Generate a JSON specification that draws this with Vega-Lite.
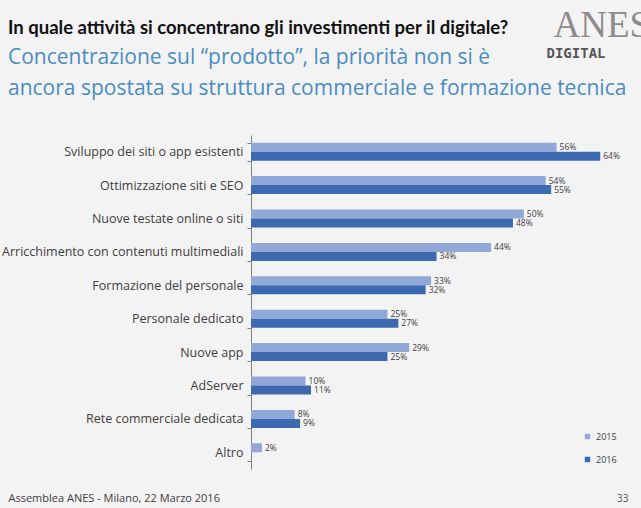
{
  "$schema": "https://vega.github.io/schema/vega-lite/v6.json",
  "autosize": {"type": "none"},
  "padding": {"left": 251, "top": 135, "right": 8, "bottom": 39},
  "width": 382,
  "height": 334,
  "background": "#f3f3f3",
  "config": {"view": {"stroke": null}, "font": "Open Sans"},
  "title": {
    "text": "In quale attività si concentrano gli investimenti per il digitale?",
    "subtitle": ["Concentrazione sul “prodotto”, la priorità non si è", "ancora spostata su struttura commerciale e formazione tecnica"],
    "anchor": "start",
    "frame": "group",
    "orient": "top",
    "dx": -243,
    "offset": -93,
    "font": "Lato",
    "fontSize": 18.5,
    "fontWeight": "bold",
    "color": "#111111",
    "subtitleFont": "Open Sans",
    "subtitleFontSize": 21,
    "subtitleColor": "#4a8cc2",
    "subtitleLineHeight": 31,
    "subtitlePadding": 10
  },
  "data": {
    "values": [
      {"category": "Sviluppo dei siti o app esistenti", "year": "2015", "value": 0.56},
      {"category": "Sviluppo dei siti o app esistenti", "year": "2016", "value": 0.64},
      {"category": "Ottimizzazione siti e SEO", "year": "2015", "value": 0.54},
      {"category": "Ottimizzazione siti e SEO", "year": "2016", "value": 0.55},
      {"category": "Nuove testate online o siti", "year": "2015", "value": 0.50},
      {"category": "Nuove testate online o siti", "year": "2016", "value": 0.48},
      {"category": "Arricchimento con contenuti multimediali", "year": "2015", "value": 0.44},
      {"category": "Arricchimento con contenuti multimediali", "year": "2016", "value": 0.34},
      {"category": "Formazione del personale", "year": "2015", "value": 0.33},
      {"category": "Formazione del personale", "year": "2016", "value": 0.32},
      {"category": "Personale dedicato", "year": "2015", "value": 0.25},
      {"category": "Personale dedicato", "year": "2016", "value": 0.27},
      {"category": "Nuove app", "year": "2015", "value": 0.29},
      {"category": "Nuove app", "year": "2016", "value": 0.25},
      {"category": "AdServer", "year": "2015", "value": 0.10},
      {"category": "AdServer", "year": "2016", "value": 0.11},
      {"category": "Rete commerciale dedicata", "year": "2015", "value": 0.08},
      {"category": "Rete commerciale dedicata", "year": "2016", "value": 0.09},
      {"category": "Altro", "year": "2015", "value": 0.02}
    ]
  },
  "resolve": {"axis": {"x": "independent", "y": "independent"}},
  "layer": [
    {
      "mark": {"type": "bar"},
      "encoding": {
        "y": {
          "field": "category", "type": "nominal", "sort": null,
          "scale": {"paddingInner": 0.46, "paddingOuter": 0.23},
          "axis": {
            "orient": "left", "title": null, "grid": false,
            "domain": true, "domainColor": "#7f7f7f", "domainWidth": 1,
            "ticks": true, "tickBand": "extent", "tickSize": 4, "tickColor": "#7f7f7f",
            "labelFont": "Open Sans", "labelFontSize": 12.5, "labelColor": "#404040", "labelPadding": 4, "labelLimit": 300
          }
        },
        "yOffset": {"field": "year", "type": "nominal", "sort": ["2015", "2016"]},
        "x": {
          "field": "value", "type": "quantitative",
          "scale": {"domain": [0, 0.7], "nice": false},
          "axis": {
            "orient": "bottom", "grid": false, "domain": false, "ticks": false, "labels": false,
            "title": "Assemblea ANES - Milano, 22 Marzo 2016",
            "titleX": -243, "titleY": 32, "titleAlign": "left", "titleBaseline": "alphabetic",
            "titleFont": "Open Sans", "titleFontSize": 11, "titleFontWeight": "normal", "titleColor": "#404040"
          }
        },
        "color": {
          "field": "year", "type": "nominal",
          "scale": {"domain": ["2015", "2016"], "range": ["#91a9d9", "#3c69b0"]},
          "legend": {
            "orient": "none", "legendX": 332, "legendY": 297,
            "title": "33", "titleOrient": "bottom", "titleAnchor": "end", "titleAlign": "left", "titlePadding": 29,
            "titleFont": "Open Sans", "titleFontSize": 10, "titleFontWeight": "normal", "titleColor": "#555555",
            "symbolType": "square", "symbolSize": 30, "symbolStrokeWidth": 0,
            "labelFont": "Open Sans", "labelFontSize": 9, "labelColor": "#404040", "rowPadding": 13
          }
        }
      }
    },
    {
      "mark": {"type": "text", "align": "left", "baseline": "middle", "dx": 3, "font": "Open Sans", "fontSize": 8.5, "color": "#404040"},
      "encoding": {
        "y": {
          "field": "category", "type": "nominal", "sort": null,
          "scale": {"paddingInner": 0.46, "paddingOuter": 0.23},
          "axis": {
            "orient": "right", "grid": false, "domain": false, "ticks": false, "labels": false,
            "title": "DIGITAL", "titleAngle": 0, "titleX": -87, "titleY": -78,
            "titleAlign": "left", "titleBaseline": "alphabetic",
            "titleFont": "DejaVu Sans Mono", "titleFontSize": 14, "titleFontWeight": "bold", "titleColor": "#555555"
          }
        },
        "yOffset": {"field": "year", "type": "nominal", "sort": ["2015", "2016"]},
        "x": {
          "field": "value", "type": "quantitative",
          "scale": {"domain": [0, 0.7], "nice": false},
          "axis": {
            "orient": "top", "grid": false, "domain": false, "ticks": false, "labels": false,
            "title": "ANES", "titleX": 302, "titleY": -99, "titleAlign": "left", "titleBaseline": "alphabetic",
            "titleFont": "Liberation Serif", "titleFontSize": 37, "titleFontWeight": "normal", "titleColor": "#8c8c8c"
          }
        },
        "text": {"field": "value", "type": "quantitative", "format": ".0%"}
      }
    }
  ]
}
